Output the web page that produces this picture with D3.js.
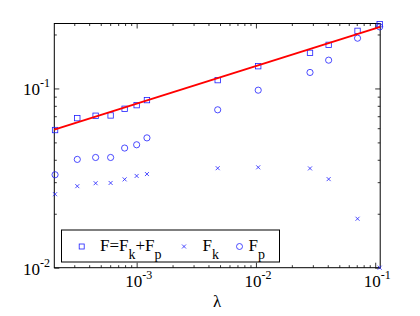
<!DOCTYPE html>
<html><head><meta charset="utf-8">
<script src="https://cdn.jsdelivr.net/npm/d3@7"></script>
</head><body style="margin:0">
<svg id="c" width="420" height="316"></svg>
<script>
const lambda = [2.07e-4, 3.18e-4, 4.53e-4, 6.05e-4, 7.93e-4, 1.0e-3, 1.22e-3, 4.78e-3, 1.045e-2, 2.84e-2, 4.07e-2, 7.11e-2, 0.109];
const F  = [0.0586, 0.0683, 0.0704, 0.0707, 0.0770, 0.0807, 0.0861, 0.1113, 0.1331, 0.1579, 0.175, 0.2095, 0.2283];
const Fk = [0.0257, 0.0285, 0.0296, 0.0297, 0.0311, 0.0325, 0.0333, 0.0359, 0.0363, 0.0358, 0.0312, 0.01875, 0.0100];
const Fp = [0.0330, 0.0402, 0.0412, 0.0412, 0.0465, 0.0485, 0.0530, 0.0760, 0.0978, 0.1228, 0.1438, 0.1907, 0.2205];
const fitX = [2.04e-4, 0.110];
const fitY = [0.0589, 0.2205];
const xMajor = [1e-3, 1e-2, 1e-1];
const yMajor = [1e-2, 1e-1];
const xExp = ["-3", "-2", "-1"];
const yExp = ["-2", "-1"];

const FONT = "Times New Roman";
const svg = d3.select("#c");
const L = 54.3, R = 380.2, T = 23.5, B = 267.7;
const x = d3.scaleLog().domain([2.04e-4, 0.1101]).range([L, R]);
const y = d3.scaleLog().domain([0.01, 0.2303]).range([B, T]);

const xMinor = [], yMinor = [];
[1e-4,1e-3,1e-2].forEach(d => { for (let k = 2; k <= 9; k++) { const v = d*k; if (v >= x.domain()[0] && v <= x.domain()[1]) xMinor.push(v); } });
[1e-2,1e-1].forEach(d => { for (let k = 2; k <= 9; k++) { const v = d*k; if (v <= y.domain()[1]) yMinor.push(v); } });

function ticks(axisGen, tr, vals, size) {
  svg.append("g").attr("transform", tr)
    .call(axisGen.tickValues(vals).tickSizeInner(size).tickSizeOuter(0).tickFormat(""))
    .call(g => { g.select(".domain").remove(); g.selectAll("text").remove(); g.selectAll("line").attr("stroke", "#000").attr("stroke-width", 0.8); });
}
ticks(d3.axisBottom(x), `translate(0,${B})`, xMajor.filter(v=>v<=x.domain()[1]), -5);
ticks(d3.axisBottom(x), `translate(0,${B})`, xMinor, -2.5);
ticks(d3.axisTop(x), `translate(0,${T})`, xMajor.filter(v=>v<=x.domain()[1]), -5);
ticks(d3.axisTop(x), `translate(0,${T})`, xMinor, -2.5);
ticks(d3.axisLeft(y), `translate(${L},0)`, yMajor, -5);
ticks(d3.axisLeft(y), `translate(${L},0)`, yMinor, -2.5);
ticks(d3.axisRight(y), `translate(${R},0)`, yMajor, -5);
ticks(d3.axisRight(y), `translate(${R},0)`, yMinor, -2.5);

svg.append("rect").attr("x", L).attr("y", T).attr("width", R-L).attr("height", B-T)
  .attr("fill", "none").attr("stroke", "#000").attr("stroke-width", 1);

function label(xp, yp, anchor, exp) {
  const t = svg.append("text").attr("x", xp).attr("y", yp).attr("text-anchor", anchor)
    .attr("font-size", 17).attr("font-family", FONT);
  t.append("tspan").attr("font-family", FONT).text("10");
  t.append("tspan").attr("font-family", FONT).attr("dy", -8).attr("font-size", 12).text(exp);
}
xMajor.forEach((v, i) => label(x(v) + 2, 287, "middle", xExp[i]));
yMajor.forEach((v, i) => label(50, y(v) + 7, "end", yExp[i]));
svg.append("text").attr("x", 217).attr("y", 307).attr("text-anchor", "middle").attr("font-size", 17).attr("font-family", FONT).text("\u03bb");

const blue = "#1f1fff";
const plot = svg.append("g");
plot.selectAll(".sq").data(lambda).join("rect")
  .attr("x", (d,i) => x(d) - 2.7).attr("y", (d,i) => y(F[i]) - 2.7)
  .attr("width", 5.4).attr("height", 5.4).attr("fill", "none").attr("stroke", blue).attr("stroke-width", 0.8);
const cs = 2;
plot.selectAll(".cx").data(lambda).join("path")
  .attr("d", (d,i) => { const cx = x(d), cy = y(Fk[i]); return `M${cx-cs},${cy-cs}L${cx+cs},${cy+cs}M${cx-cs},${cy+cs}L${cx+cs},${cy-cs}`; })
  .attr("fill", "none").attr("stroke", blue).attr("stroke-width", 0.8);
plot.selectAll(".ci").data(lambda).join("circle")
  .attr("cx", d => x(d)).attr("cy", (d,i) => y(Fp[i])).attr("r", 3.1)
  .attr("fill", "none").attr("stroke", blue).attr("stroke-width", 0.8);
svg.append("path").datum(fitX.map((d,i)=>[d, fitY[i]]))
  .attr("d", d3.line().x(d=>x(d[0])).y(d=>y(d[1])))
  .attr("stroke", "#ff0000").attr("stroke-width", 2).attr("fill", "none");

const lg = svg.append("g");
lg.append("rect").attr("x", 61.5).attr("y", 230).attr("width", 218).attr("height", 32)
  .attr("fill", "#fff").attr("stroke", "#000").attr("stroke-width", 1);
lg.append("rect").attr("x", 81.7-2.5).attr("y", 246.5-2.5).attr("width", 5).attr("height", 5)
  .attr("fill", "none").attr("stroke", blue).attr("stroke-width", 0.8);
lg.append("path").attr("d", `M${184-cs},${246.5-cs}L${184+cs},${246.5+cs}M${184-cs},${246.5+cs}L${184+cs},${246.5-cs}`)
  .attr("stroke", blue).attr("stroke-width", 0.8);
lg.append("circle").attr("cx", 239.5).attr("cy", 246.5).attr("r", 3).attr("fill", "none").attr("stroke", blue).attr("stroke-width", 0.8);
function legText(xp, parts) {
  const t = lg.append("text").attr("x", xp).attr("y", 250.5).attr("font-size", 17).attr("font-family", FONT);
  let shift = 0;
  parts.forEach(p => {
    const dy = (p.sub ? 8 : 0) - shift;
    shift = p.sub ? 8 : 0;
    t.append("tspan").attr("font-family", FONT).attr("dy", dy).attr("font-size", p.sub ? 14 : 17).text(p.s);
  });
}
legText(100, [{s:"F=F"},{s:"k",sub:true},{s:"+F"},{s:"p",sub:true}]);
legText(202.5, [{s:"F"},{s:"k",sub:true}]);
legText(248.5, [{s:"F"},{s:"p",sub:true}]);
</script></body></html>
